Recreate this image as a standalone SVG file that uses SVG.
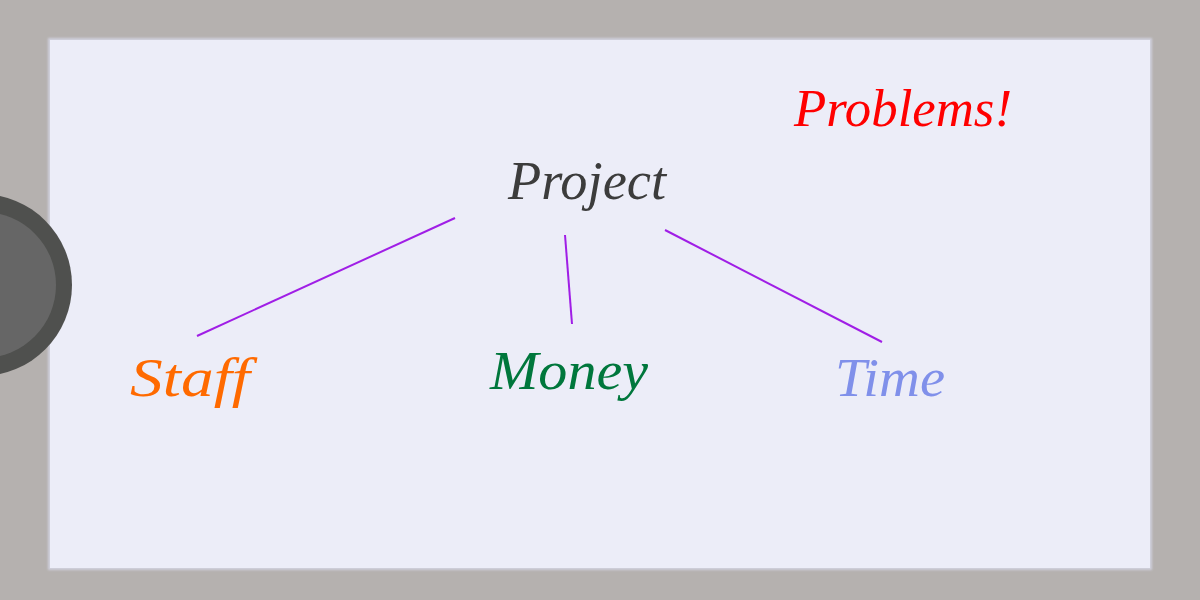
<svg xmlns="http://www.w3.org/2000/svg" width="1200" height="600" viewBox="0 0 1200 600">
<defs>
<style>
.t{font-family:"Liberation Serif",serif;font-style:italic;text-anchor:middle}
.c{stroke:#a01ee6;stroke-width:2;fill:none}
</style>
<filter id="blur" x="-5%" y="-5%" width="110%" height="110%"><feGaussianBlur stdDeviation="1.2"/></filter>
</defs>
<rect x="0" y="0" width="1200" height="600" fill="#b5b1af"/>
<rect x="48" y="38" width="1104" height="532" fill="#cfcfdc" filter="url(#blur)"/>
<rect x="50" y="40" width="1100" height="528" fill="#ecedf8"/>
<g id="knob">
<circle cx="-19" cy="285" r="91" fill="#4f504e"/>
<circle cx="-17" cy="285" r="73" fill="#666666"/>
</g>
<g id="connectors">
<line class="c" x1="455" y1="218" x2="197" y2="336"/>
<line class="c" x1="565" y1="235" x2="572" y2="324"/>
<line class="c" x1="665" y1="230" x2="882" y2="342"/>
</g>
<g id="problems"><text class="t" x="903" y="126" font-size="52" fill="#ff0000" textLength="218" lengthAdjust="spacingAndGlyphs">Problems!</text></g>
<g id="project"><text class="t" x="587" y="199" font-size="54" fill="#3c3c3c" textLength="158" lengthAdjust="spacingAndGlyphs">Project</text></g>
<g id="staff"><text class="t" x="190" y="396" font-size="54" fill="#ff6a00" textLength="120" lengthAdjust="spacingAndGlyphs">Staff</text></g>
<g id="money"><text class="t" x="569" y="389" font-size="54" fill="#00773c" textLength="158" lengthAdjust="spacingAndGlyphs">Money</text></g>
<g id="time"><text class="t" x="890" y="396" font-size="54" fill="#8090ea" textLength="110" lengthAdjust="spacingAndGlyphs">Time</text></g>
</svg>
